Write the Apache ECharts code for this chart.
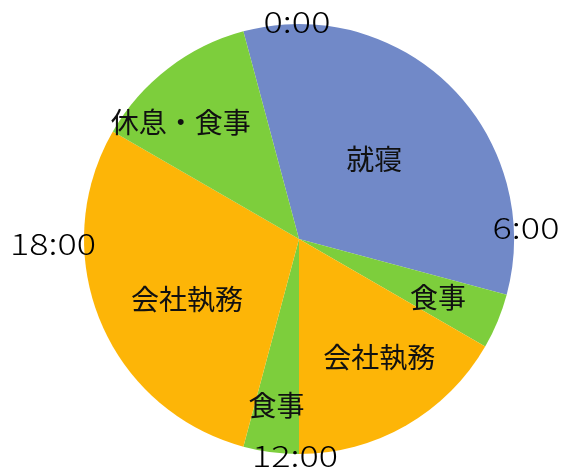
<!DOCTYPE html>
<html>
<head>
<meta charset="utf-8">
<script src="https://cdn.jsdelivr.net/npm/echarts@6/dist/echarts.min.js"></script>
<style>
html,body{margin:0;padding:0;background:#fff;}
#chart{width:564px;height:470px;}
</style>
</head>
<body>
<div id="chart"></div>
<script>
// Data: a 24-hour day, starting at 23:00, clockwise
const activities = ['就寝', '食事', '会社執務', '食事', '会社執務', '休息・食事'];
const hours = [8, 1, 4, 1, 7, 3];
const clockLabels = ['0:00', '6:00', '12:00', '18:00'];

// Styles (not data)
const BLUE = '#7189C8', GREEN = '#7DCE3C', ORANGE = '#FDB507';
const sliceColors = [BLUE, GREEN, ORANGE, GREEN, ORANGE, GREEN];
const labelOffsets = [[-3, -2], [37, 16], [25, 23], [-8, 57], [-10, 18], [-51, -29]];
const clockPos = [[297, 22], [526, 228], [295, 456], [53, 244]];

const chart = echarts.init(document.getElementById('chart'));
chart.setOption({
  animation: false,
  backgroundColor: '#ffffff',
  series: [{
    type: 'pie',
    center: [299, 239],
    radius: 215,
    startAngle: 105,
    clockwise: true,
    silent: true,
    data: activities.map((name, i) => ({
      name: name,
      value: hours[i],
      itemStyle: { color: sliceColors[i] },
      label: { offset: labelOffsets[i] }
    })),
    itemStyle: { borderWidth: 0 },
    label: {
      show: true,
      position: 'inside',
      formatter: '{b}',
      color: '#111',
      fontSize: 28,
      fontFamily: '"Noto Sans CJK JP", sans-serif'
    },
    labelLine: { show: false }
  }],
  graphic: clockLabels.map((t, i) => ({
    type: 'text',
    x: clockPos[i][0],
    y: clockPos[i][1],
    scaleX: 1.2,
    z: 100,
    style: {
      text: t,
      fill: '#000',
      fontSize: 30,
      fontWeight: 300,
      fontFamily: '"Noto Sans CJK JP", sans-serif',
      textAlign: 'center',
      textVerticalAlign: 'middle'
    }
  }))
});
</script>
</body>
</html>
